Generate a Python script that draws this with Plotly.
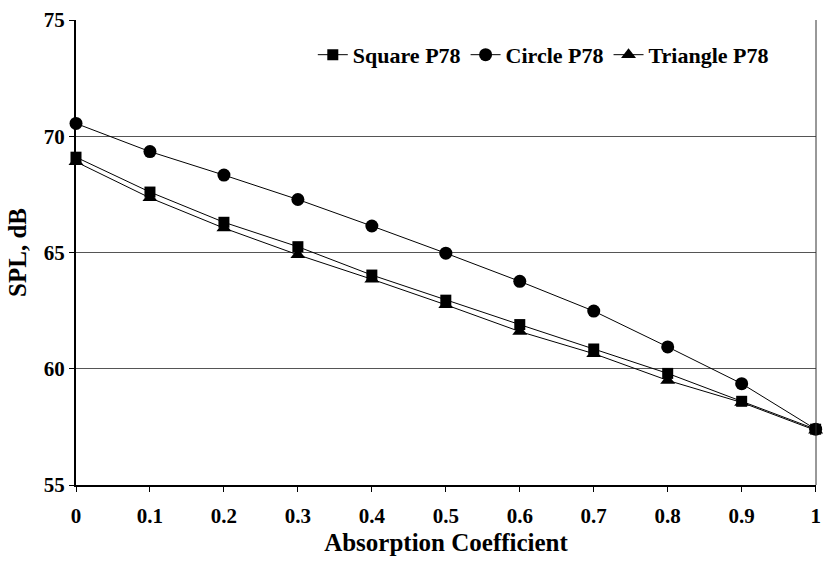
import plotly.graph_objects as go

absorption = [0, 0.1, 0.2, 0.3, 0.4, 0.5, 0.6, 0.7, 0.8, 0.9, 1.0]
square_p78 = [69.1, 67.6, 66.3, 65.25, 64.03, 62.95, 61.9, 60.85, 59.8, 58.6, 57.4]
circle_p78 = [70.55, 69.34, 68.33, 67.28, 66.14, 64.97, 63.76, 62.48, 60.94, 59.36, 57.4]
triangle_p78 = [68.9, 67.35, 66.05, 64.9, 63.85, 62.75, 61.6, 60.65, 59.5, 58.55, 57.35]
x_ticks = [0, 0.1, 0.2, 0.3, 0.4, 0.5, 0.6, 0.7, 0.8, 0.9, 1]
x_tick_text = ["0", "0.1", "0.2", "0.3", "0.4", "0.5", "0.6", "0.7", "0.8", "0.9", "1"]
y_ticks = [55, 60, 65, 70, 75]

FONT = "Liberation Serif"

fig = go.Figure()
series = [
    ("Square P78", square_p78, "square", 11),
    ("Circle P78", circle_p78, "circle", 13),
    ("Triangle P78", triangle_p78, "triangle-up", 13),
]
for name, vals, sym, size in series:
    fig.add_trace(go.Scatter(
        x=absorption, y=vals, name=name, mode="lines+markers",
        line=dict(color="black", width=1),
        marker=dict(symbol=sym, size=size, color="black"),
        cliponaxis=False,
    ))

fig.update_layout(
    width=829, height=563,
    margin=dict(l=76, r=8, t=17, b=78),
    paper_bgcolor="white", plot_bgcolor="white",
    font=dict(family=FONT, color="black", size=16),
    showlegend=True,
    legend=dict(
        orientation="h", x=0.32, y=0.925, xanchor="left", yanchor="middle",
        font=dict(family=FONT, size=22, color="black", weight="bold"),
        bgcolor="rgba(0,0,0,0)", itemwidth=30, tracegroupgap=0,
    ),
    xaxis=dict(
        range=[0, 1.0005], tickvals=x_ticks, ticktext=x_tick_text,
        showgrid=False, zeroline=False,
        showline=True, linecolor="black", linewidth=2, mirror=False,
        ticks="outside", ticklen=5, tickcolor="black", tickwidth=1,
        ticklabelstandoff=6,
        tickfont=dict(family=FONT, size=21, color="black", weight="bold"),
        title=dict(text="Absorption Coefficient", standoff=6,
                   font=dict(family=FONT, size=25, color="black", weight="bold")),
    ),
    yaxis=dict(
        range=[55, 75], tickvals=y_ticks,
        showgrid=True, gridcolor="#555555", gridwidth=1,
        zeroline=False,
        showline=True, linecolor="black", linewidth=2,
        ticks="outside", ticklen=5, tickcolor="black", tickwidth=1,
        tickfont=dict(family=FONT, size=21, color="black", weight="bold"),
        title=dict(text="SPL, dB", standoff=10,
                   font=dict(family=FONT, size=25, color="black", weight="bold")),
    ),
)
# right border line at x = 1
fig.add_shape(type="line", xref="paper", yref="paper", x0=1, x1=1, y0=0, y1=1,
              line=dict(color="#333333", width=1))

fig.write_html("out.html", config={"displayModeBar": False},
               post_script="document.body.style.margin='0px';")
